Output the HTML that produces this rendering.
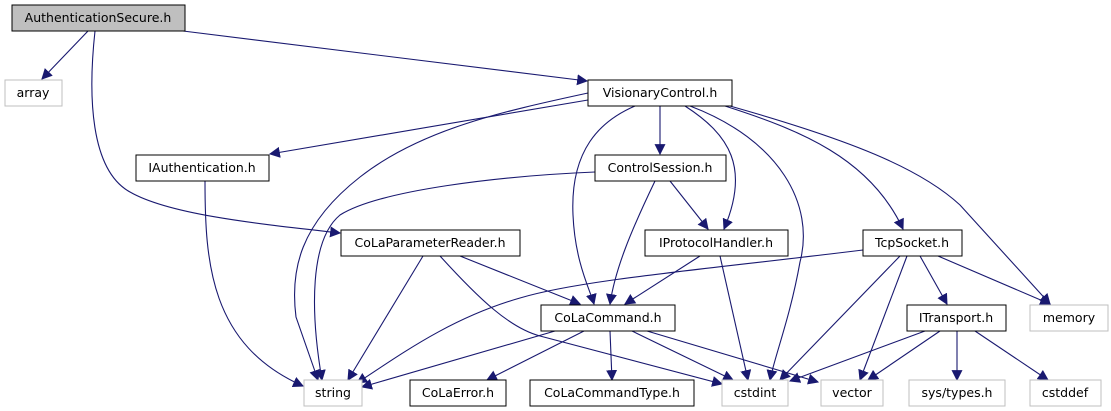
<!DOCTYPE html>
<html><head><meta charset="utf-8"><style>
html,body{margin:0;padding:0;background:#fff;}
svg{display:block;}
text{font-family:"DejaVu Sans","Liberation Sans",sans-serif;font-size:12.5px;fill:#000;}
</style></head><body>
<svg width="1111" height="411" viewBox="0 0 1111 411" xmlns="http://www.w3.org/2000/svg">
<defs><marker id="a" viewBox="0 0 10 10" refX="9" refY="5" markerWidth="11" markerHeight="11" markerUnits="userSpaceOnUse" orient="auto"><path d="M0,0 L10,5 L0,10 z" fill="#191970"/></marker></defs>
<g fill="none" stroke="#191970" stroke-width="1.1" marker-end="url(#a)">
<path d="M88,31 L42,79"/>
<path d="M183,31 L587,81"/>
<path d="M95,31 C88,95 90,170 130,192 C170,215 260,224 340,233"/>
<path d="M588,100 L270,154"/>
<path d="M588,93 C500,112 420,130 360,177 C300,224 290,270 296,317 L318,380"/>
<path d="M635,106 C600,121 570,150 573,215 C575,262 590,290 594,304"/>
<path d="M660,106 L660,154"/>
<path d="M685,106 C730,135 750,168 724,229"/>
<path d="M690,106 C780,140 815,205 800,262 C790,318 775,355 770,380"/>
<path d="M725,106 C800,130 870,158 903,229"/>
<path d="M730,106 C850,140 920,168 960,205 L1050,304"/>
<path d="M205,181 C205,262 210,345 303,386"/>
<path d="M595,172 C500,176 380,190 340,215 C310,240 310,310 322,380"/>
<path d="M655,181 C630,233 615,270 610,304"/>
<path d="M670,181 L708,229"/>
<path d="M423,256 L348,380"/>
<path d="M440,256 C480,300 510,328 540,336 L722,384"/>
<path d="M460,256 L580,304"/>
<path d="M700,256 L625,304"/>
<path d="M720,256 L748,380"/>
<path d="M863,250 C700,270 580,280 520,298 C450,318 400,355 357,383"/>
<path d="M900,256 L780,380"/>
<path d="M907,256 L860,380"/>
<path d="M920,256 L947,304"/>
<path d="M938,256 L1050,304"/>
<path d="M555,331 L362,387"/>
<path d="M584,331 L487,380"/>
<path d="M610,331 L612,380"/>
<path d="M632,331 L733,380"/>
<path d="M647,331 L818,382"/>
<path d="M925,331 L790,381"/>
<path d="M940,331 L868,380"/>
<path d="M957,331 L957,380"/>
<path d="M975,331 L1048,380"/>
</g>
<g stroke-width="1">
<rect x="12" y="5" width="173" height="26" fill="#bfbfbf" stroke="#000"/>
<rect x="5" y="80" width="57" height="26" fill="#fff" stroke="#bfbfbf"/>
<rect x="588" y="80" width="144" height="26" fill="#fff" stroke="#000"/>
<rect x="136" y="155" width="133" height="26" fill="#fff" stroke="#000"/>
<rect x="595" y="155" width="131" height="26" fill="#fff" stroke="#000"/>
<rect x="341" y="230" width="179" height="26" fill="#fff" stroke="#000"/>
<rect x="645" y="230" width="143" height="26" fill="#fff" stroke="#000"/>
<rect x="863" y="230" width="99" height="26" fill="#fff" stroke="#000"/>
<rect x="541" y="305" width="134" height="26" fill="#fff" stroke="#000"/>
<rect x="907" y="305" width="99" height="26" fill="#fff" stroke="#000"/>
<rect x="1030" y="305" width="78" height="26" fill="#fff" stroke="#bfbfbf"/>
<rect x="304" y="380" width="58" height="26" fill="#fff" stroke="#bfbfbf"/>
<rect x="410" y="380" width="96" height="26" fill="#fff" stroke="#000"/>
<rect x="530" y="380" width="164" height="26" fill="#fff" stroke="#000"/>
<rect x="722" y="380" width="66" height="26" fill="#fff" stroke="#bfbfbf"/>
<rect x="821" y="380" width="62" height="26" fill="#fff" stroke="#bfbfbf"/>
<rect x="909" y="380" width="96" height="26" fill="#fff" stroke="#bfbfbf"/>
<rect x="1030" y="380" width="71" height="26" fill="#fff" stroke="#bfbfbf"/>
</g>
<g text-anchor="middle">
<text x="98" y="22">AuthenticationSecure.h</text>
<text x="33" y="97">array</text>
<text x="660" y="97">VisionaryControl.h</text>
<text x="202" y="172">IAuthentication.h</text>
<text x="660" y="172">ControlSession.h</text>
<text x="430" y="247">CoLaParameterReader.h</text>
<text x="716" y="247">IProtocolHandler.h</text>
<text x="912" y="247">TcpSocket.h</text>
<text x="608" y="322">CoLaCommand.h</text>
<text x="956" y="322">ITransport.h</text>
<text x="1069" y="322">memory</text>
<text x="333" y="397">string</text>
<text x="458" y="397">CoLaError.h</text>
<text x="612" y="397">CoLaCommandType.h</text>
<text x="755" y="397">cstdint</text>
<text x="852" y="397">vector</text>
<text x="957" y="397">sys/types.h</text>
<text x="1065" y="397">cstddef</text>
</g>
</svg>
</body></html>
